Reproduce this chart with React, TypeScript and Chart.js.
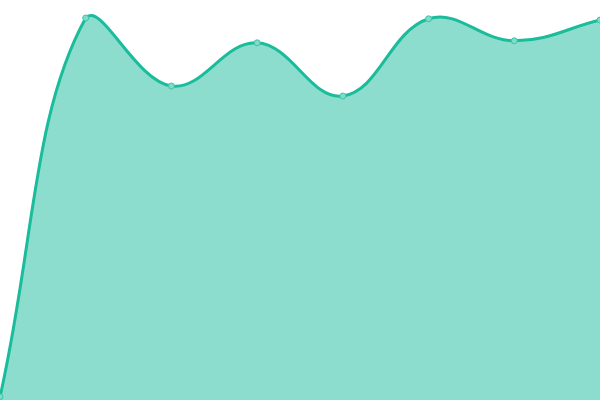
import { useEffect, useRef } from "react";
import Chart from "chart.js/auto";

const labels = ["1", "2", "3", "4", "5", "6", "7", "8"];
const values = [0.8, 95.5, 78.5, 89.3, 76, 95.3, 89.8, 95];

export default function App() {
  const canvasRef = useRef<HTMLCanvasElement | null>(null);

  useEffect(() => {
    document.body.style.margin = "0";
    const canvas = canvasRef.current;
    if (!canvas) return;

    const chart = new Chart(canvas, {
      type: "line",
      data: {
        labels,
        datasets: [
          {
            data: values,
            borderColor: "#1abc9c",
            backgroundColor: "rgba(26,188,156,0.5)",
            borderWidth: 3,
            fill: true,
            tension: 0.4,
            pointRadius: 3,
            pointBorderWidth: 1,
            pointBackgroundColor: "#7fdcc8",
            pointBorderColor: "#3cc4a8",
          },
        ],
      },
      options: {
        responsive: false,
        animation: false,
        layout: { padding: 0, autoPadding: false },
        scales: {
          x: { display: false, offset: false },
          y: { display: false, min: 0, max: 100 },
        },
        plugins: {
          legend: { display: false },
          tooltip: { enabled: false },
        },
      },
    });

    return () => {
      chart.destroy();
    };
  }, []);

  return (
    <div style={{ width: 600, height: 400 }}>
      <canvas ref={canvasRef} width={600} height={400} />
    </div>
  );
}
